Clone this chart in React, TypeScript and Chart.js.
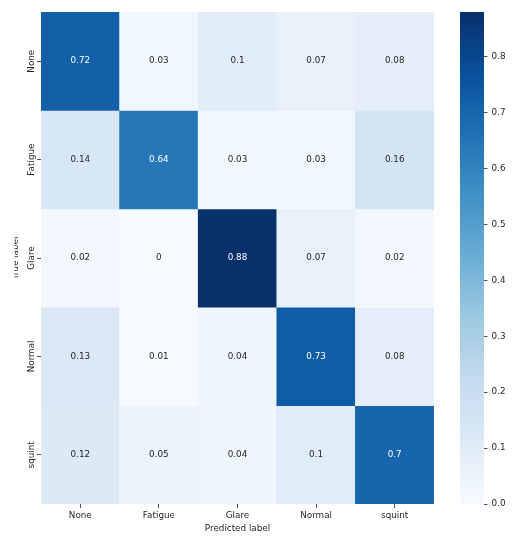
import React, { useEffect, useRef } from "react";
import { Chart, registerables } from "chart.js";

Chart.register(...registerables);

const rowLabels = ["None", "Fatigue", "Glare", "Normal", "squint"];
const colLabels = ["None", "Fatigue", "Glare", "Normal", "squint"];

const rowNone = [0.72, 0.03, 0.1, 0.07, 0.08];
const rowFatigue = [0.14, 0.64, 0.03, 0.03, 0.16];
const rowGlare = [0.02, 0, 0.88, 0.07, 0.02];
const rowNormal = [0.13, 0.01, 0.04, 0.73, 0.08];
const rowSquint = [0.12, 0.05, 0.04, 0.1, 0.7];

const matrix = [rowNone, rowFatigue, rowGlare, rowNormal, rowSquint];

const cbarTicks = [0.0, 0.1, 0.2, 0.3, 0.4, 0.5, 0.6, 0.7, 0.8];

const xTitle = "Predicted label";
const yTitle = "True label";

const BLUES: number[][] = [
  [0.9686, 0.9843, 1.0],
  [0.8706, 0.9216, 0.9686],
  [0.7765, 0.8588, 0.9373],
  [0.6196, 0.7922, 0.8824],
  [0.4196, 0.6824, 0.8392],
  [0.2588, 0.5725, 0.7765],
  [0.1294, 0.4431, 0.7098],
  [0.0314, 0.3176, 0.6118],
  [0.0314, 0.1882, 0.4196],
];

const FONT = '"DejaVu Sans", sans-serif';
const FS = 8.8;
const DARK = "#262626";

function bluesRgb(t: number): number[] {
  const tt = Math.max(0, Math.min(1, t));
  const pos = tt * (BLUES.length - 1);
  const i = Math.min(BLUES.length - 2, Math.floor(pos));
  const f = pos - i;
  const a = BLUES[i];
  const b = BLUES[i + 1];
  return [0, 1, 2].map((k) => a[k] + (b[k] - a[k]) * f);
}
function rgbStr(c: number[]) {
  return `rgb(${Math.round(c[0] * 255)},${Math.round(c[1] * 255)},${Math.round(c[2] * 255)})`;
}
function lum(c: number[]) {
  const l = c.map((v) => (v <= 0.03928 ? v / 12.92 : Math.pow((v + 0.055) / 1.055, 2.4)));
  return 0.2126 * l[0] + 0.7152 * l[1] + 0.0722 * l[2];
}

const vmax = Math.max(...matrix.map((r) => Math.max(...r)));

export default function App() {
  const mainRef = useRef<HTMLCanvasElement>(null);
  const cbRef = useRef<HTMLCanvasElement>(null);

  useEffect(() => {
    const textPlugin = {
      id: "heatText",
      afterDatasetsDraw(chart: any) {
        const { ctx, scales } = chart;
        const x = scales.x;
        const y = scales.y;
        ctx.save();
        ctx.font = `${FS}px ${FONT}`;
        ctx.textAlign = "center";
        ctx.textBaseline = "middle";
        matrix.forEach((row, i) => {
          row.forEach((v, j) => {
            const c = bluesRgb(v / vmax);
            ctx.fillStyle = lum(c) > 0.408 ? DARK : "#ffffff";
            ctx.fillText(String(v), x.getPixelForValue(j), y.getPixelForValue(i + 0.5));
          });
        });
        // y tick labels (rotated)
        ctx.fillStyle = DARK;
        ctx.textBaseline = "alphabetic";
        rowLabels.forEach((lab, i) => {
          ctx.save();
          ctx.translate(33.5, y.getPixelForValue(i + 0.5));
          ctx.rotate(-Math.PI / 2);
          ctx.fillText(lab, 0, 0);
          ctx.restore();
        });
        // y title (clipped at figure edge)
        ctx.save();
        ctx.beginPath();
        ctx.rect(14.4, 0, 40, chart.height);
        ctx.clip();
        ctx.translate(18.4, (y.top + y.bottom) / 2);
        ctx.rotate(-Math.PI / 2);
        ctx.fillText(yTitle, 0, 0);
        ctx.restore();
        // x title
        ctx.textBaseline = "alphabetic";
        ctx.fillText(xTitle, (x.left + x.right) / 2, 530.5);
        ctx.restore();
      },
    };

    const datasets = matrix.map((row, i) => ({
      label: rowLabels[i],
      data: row.map(() => [i, i + 1]),
      backgroundColor: row.map((v) => rgbStr(bluesRgb(v / vmax))),
      borderWidth: 0,
      grouped: false,
      barPercentage: 1,
      categoryPercentage: 1,
    }));

    const main = new Chart(mainRef.current as HTMLCanvasElement, {
      type: "bar",
      data: { labels: colLabels, datasets: datasets as any },
      options: {
        animation: false,
        responsive: false,
        events: [],
        layout: { padding: { left: 0, top: 12, right: 6, bottom: 0 } },
        plugins: { legend: { display: false }, tooltip: { enabled: false } },
        scales: {
          x: {
            type: "category",
            offset: true,
            border: { display: false },
            grid: {
              offset: false,
              drawOnChartArea: false,
              drawTicks: true,
              tickLength: 4,
              color: DARK,
              lineWidth: 0.8,
            },
            ticks: { color: DARK, font: { family: FONT, size: FS }, padding: 2, maxRotation: 0, minRotation: 0 },
            afterFit: (s: any) => {
              s.height = 41;
            },
          },
          y: {
            type: "linear",
            min: 0,
            max: 5,
            reverse: true,
            border: { display: false },
            grid: {
              drawOnChartArea: false,
              drawTicks: true,
              tickLength: 4,
              color: DARK,
              lineWidth: 0.8,
            },
            ticks: { display: false },
            afterBuildTicks: (s: any) => {
              s.ticks = rowLabels.map((_, i) => ({ value: i + 0.5 }));
            },
            afterFit: (s: any) => {
              s.width = 41;
            },
          },
        },
      },
      plugins: [textPlugin],
    } as any);

    const cb = new Chart(cbRef.current as HTMLCanvasElement, {
      type: "bar",
      data: {
        labels: [""],
        datasets: [
          {
            data: [[0, vmax]],
            borderWidth: 0,
            barPercentage: 1,
            categoryPercentage: 1,
            backgroundColor: (ctx: any) => {
              const area = ctx.chart.chartArea;
              if (!area) return "rgba(0,0,0,0)";
              const g = ctx.chart.ctx.createLinearGradient(0, area.bottom, 0, area.top);
              BLUES.forEach((c, k) => g.addColorStop(k / (BLUES.length - 1), rgbStr(c)));
              return g;
            },
          },
        ],
      },
      options: {
        animation: false,
        responsive: false,
        events: [],
        layout: { padding: { left: 20, top: 12, right: 0, bottom: 41 } },
        plugins: { legend: { display: false }, tooltip: { enabled: false } },
        scales: {
          x: { display: false },
          y: {
            position: "right",
            min: 0,
            max: vmax,
            border: { display: false },
            grid: {
              drawOnChartArea: false,
              drawTicks: true,
              tickLength: 3.5,
              color: DARK,
              lineWidth: 0.8,
            },
            afterBuildTicks: (s: any) => {
              s.ticks = cbarTicks.map((v) => ({ value: v }));
            },
            ticks: {
              color: DARK,
              font: { family: FONT, size: FS },
              padding: 4,
              callback: (v: any) => Number(v).toFixed(1),
            },
            afterFit: (s: any) => {
              s.width = 35;
            },
          },
        },
      },
    } as any);

    return () => {
      main.destroy();
      cb.destroy();
    };
  }, []);

  return (
    <div style={{ position: "fixed", left: 0, top: 0, width: 519, height: 545, background: "#fff" }}>
      <canvas ref={mainRef} width={440} height={545} style={{ position: "absolute", left: 0, top: 0, width: 440, height: 545 }} />
      <canvas ref={cbRef} width={79} height={545} style={{ position: "absolute", left: 440, top: 0, width: 79, height: 545 }} />
    </div>
  );
}
